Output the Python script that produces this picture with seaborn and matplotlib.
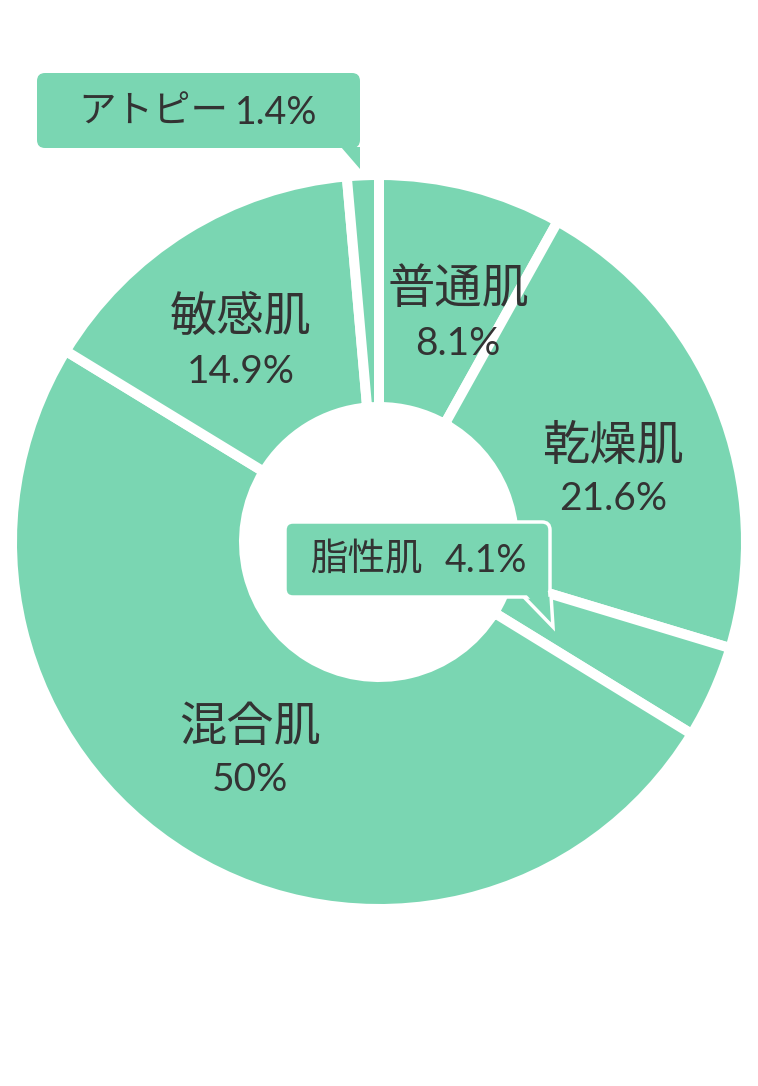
import matplotlib
matplotlib.use("Agg")
import matplotlib.pyplot as plt
from matplotlib.patches import FancyBboxPatch, Polygon
import seaborn as sns

sns.set_style("white")
plt.rcParams['font.family'] = ['Lato', 'Noto Sans CJK JP', 'DejaVu Sans']

# data
categories = ["普通肌", "乾燥肌", "脂性肌", "混合肌", "敏感肌", "アトピー"]
values = [8.1, 21.6, 4.1, 50.0, 14.9, 1.4]
pct_labels = ["8.1%", "21.6%", "4.1%", "50%", "14.9%", "1.4%"]

GREEN = "#7AD6B2"
TEXT = "#333333"
W, H = 758, 1086

fig = plt.figure(figsize=(W / 100, H / 100), dpi=100)
ax = fig.add_axes([0, 0, 1, 1])

def Y(y):
    return H - y

cx, cy = 379, Y(542)
R_out, R_in = 367, 135
colors = sns.color_palette([GREEN] * len(values))
ax.pie(values, startangle=90, counterclock=False, colors=colors,
       center=(cx, cy), radius=R_out,
       wedgeprops=dict(width=R_out - R_in, edgecolor="white", linewidth=7.2))
ax.set_xlim(0, W)
ax.set_ylim(0, H)
ax.set_aspect("equal")
ax.axis("off")

CJK = ['Noto Sans CJK JP', 'DejaVu Sans']
LAT = ['Lato', 'Noto Sans CJK JP', 'DejaVu Sans']

# in-slice labels (name, pct) positions in pixel coords
inside = {
    "普通肌": (458, 290, 344),
    "乾燥肌": (613, 447, 499),
    "敏感肌": (241, 318, 372),
    "混合肌": (250, 728, 780),
}
for name, (x, y1, y2) in inside.items():
    i = categories.index(name)
    ax.text(x, Y(y1), name, ha="center", va="center", fontsize=34, color=TEXT,
            family=CJK)
    ax.text(x, Y(y2), pct_labels[i], ha="center", va="center", fontsize=28,
            color=TEXT, family=LAT)

# callout: アトピー
b = FancyBboxPatch((37 + 8, Y(148) + 8), 360 - 37 - 16, 148 - 73 - 16,
                   boxstyle="round,pad=8", fc=GREEN, ec="none", zorder=5)
ax.add_patch(b)
ax.add_patch(Polygon([(341, Y(147)), (360, Y(147)), (360, Y(169))],
                     closed=True, fc=GREEN, ec="none", zorder=5))
i = categories.index("アトピー")
ax.text(78, Y(112), categories[i], ha="left", va="center",
        fontsize=27, color=TEXT, zorder=6, family=CJK)
ax.text(317, Y(113), pct_labels[i], ha="right", va="center",
        fontsize=27, color=TEXT, zorder=6, family=LAT)

# callout: 脂性肌
ax.add_patch(Polygon([(522, Y(595)), (551, Y(595)), (553, Y(627))],
                     closed=True, fc=GREEN, ec="white", lw=2.5, zorder=5))
b2 = FancyBboxPatch((285 + 8, Y(597) + 8), 550 - 285 - 16, 597 - 522 - 16,
                    boxstyle="round,pad=8", fc=GREEN, ec="white", lw=2.5, zorder=5)
ax.add_patch(b2)
ax.add_patch(Polygon([(524, Y(592)), (548, Y(592)), (550, Y(621))],
                     closed=True, fc=GREEN, ec="none", zorder=6))
i = categories.index("脂性肌")
ax.text(310, Y(560), categories[i], ha="left", va="center",
        fontsize=27, color=TEXT, zorder=7, family=CJK)
ax.text(527, Y(561), pct_labels[i], ha="right", va="center",
        fontsize=27, color=TEXT, zorder=7, family=LAT)

fig.savefig("out.png", dpi=100, facecolor="white")
